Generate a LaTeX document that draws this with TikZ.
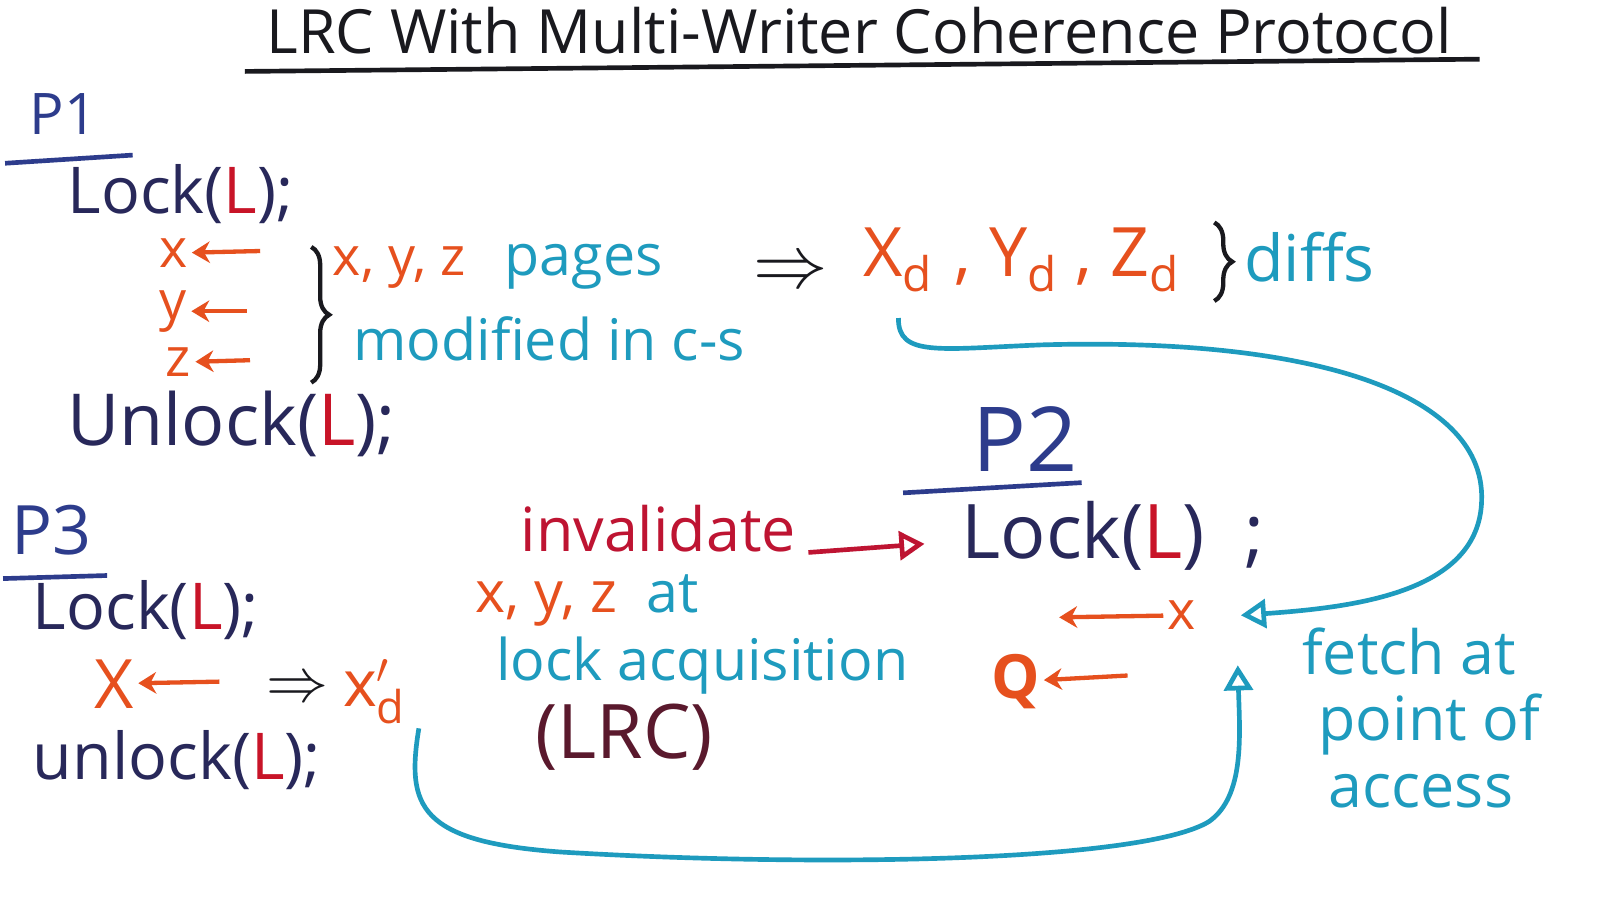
\documentclass[tikz,border=0pt]{standalone}
\usepackage{fontspec}
\setmainfont{Open Sans}
\usepackage{tikz}
\usetikzlibrary{arrows.meta}
\usetikzlibrary{decorations.pathreplacing}
\usetikzlibrary{positioning}
\definecolor{inkblack}{RGB}{25,25,30}
\definecolor{navy}{RGB}{40,40,90}
\definecolor{procblue}{RGB}{45,60,140}
\definecolor{lockred}{RGB}{200,20,40}
\definecolor{varorange}{RGB}{230,80,30}
\definecolor{noteteal}{RGB}{30,155,190}
\definecolor{invred}{RGB}{190,20,50}
\definecolor{lrcmaroon}{RGB}{90,25,45}
\newcommand{\lk}{\textcolor{lockred}{L}}
\newcommand{\fs}[1]{\fontsize{#1}{#1}\selectfont}
\tikzset{
    codetext/.style={navy, inner sep=1pt, font=\fs{18}},
    proctext/.style={procblue, inner sep=1pt, font=\fs{18}},
    vartext/.style={varorange, inner sep=1pt, font=\fs{15}},
    notetext/.style={noteteal, inner sep=1pt, font=\fs{16}},
    % short orange assignment arrows
    assignarrow/.style={
        line width=1.2pt,
        varorange,
        -{Stealth[length=5pt, width=6pt]}
    },
    % long teal arrows
    tealarrow/.style={
        line width=1.3pt,
        noteteal,
        -{Triangle[open, length=7pt, width=8pt]}
    },
    procline/.style={line width=1.3pt, procblue},
    bracedeco/.style={line width=1.2pt, inkblack, decorate, decoration={brace, amplitude=5pt}}
}

\begin{document}
\begin{tikzpicture}
	\fill[white] (0,0) rectangle (15.68,8.80);
	\useasboundingbox (0,0) rectangle (15.68,8.80);
	
	% title
	\node[inkblack, font=\fs{17}] (title) at (8.42,8.50) {LRC With Multi-Writer Coherence Protocol};
	\draw[line width=1.3pt, inkblack] (2.40,8.10) -- (14.50,8.22);
	
	% ===================== P1 =====================
	\node[proctext, font=\fs{16}] (p1) at (0.62,7.68) {P1};
	\draw[procline] (0.05,7.20) -- (1.30,7.28);
	\node[codetext, anchor=west] (lock1) at (0.62,6.90) {Lock(\lk);};
	
	\node[vartext] (x1) at (1.70,6.32) {x};
	\node[vartext] (y1) at (1.70,5.75) {y};
	\node[vartext] (z1) at (1.75,5.25) {z};
	\path
	(2.55,6.34) coordinate (x1r)
	(2.42,5.75) coordinate (y1r)
	(2.45,5.27) coordinate (z1r);
	\draw[assignarrow] (x1r) -- (x1);
	\draw[assignarrow] (y1r) -- (y1);
	\draw[assignarrow] (z1r) -- (z1);
	
	\draw[bracedeco] (3.05,6.38) -- (3.05,5.05);
	\node[vartext, anchor=west] (xyz1) at (3.22,6.18) {x, y, z};
	\node[notetext, base right=0.3cm of xyz1] (pages) {pages};
	\node[notetext, anchor=west] (mod) at (3.42,5.48) {modified in c-s};
	
	\node[inkblack, font=\fs{20}] (imp1) at (7.75,6.12) {$\Rightarrow$};
	\node[vartext, font=\fs{19}, anchor=west] (xd) at (8.42,6.25) {X\textsubscript{d}};
	\node[vartext, font=\fs{19}, base right=0.12cm of xd] (yzd) {,\ Y\textsubscript{d}\ ,\ Z\textsubscript{d}};
	\draw[bracedeco] (11.90,6.62) -- (11.90,5.85);
	\node[notetext, font=\fs{18}, anchor=west] (diffs) at (12.15,6.28) {diffs};
	
	\node[codetext, font=\fs{20}, anchor=west] (unlock1) at (0.62,4.65) {Unlock(\lk);};
	
	% ===================== P2 =====================
	\node[proctext, font=\fs{25}] (p2) at (10.05,4.50) {P2};
	\draw[procline] (8.85,3.97) -- (10.60,4.07);
	\node[codetext, font=\fs{21}, anchor=west] (lock2) at (9.38,3.55) {Lock(\lk)\ \ ;};
	
	\node[vartext] (x2) at (11.58,2.77) {x};
	\node[vartext, font=\bfseries\fs{17}] (q) at (9.95,2.12) {Q};
	\path
	(10.38,2.75) coordinate (x2l)
	(11.05,2.18) coordinate (qr)
	(12.13,2.28) coordinate (acc);
	\draw[assignarrow] (x2) -- (x2l);
	\draw[assignarrow] (qr) -- (q);
	
	% invalidate
	\node[invred, font=\fs{17}] (inval) at (6.45,3.62) {invalidate};
	\draw[line width=1.3pt, invred, -{Triangle[open, length=7pt, width=8pt]}]
	([yshift=0.12cm]inval.south east) -- ([xshift=-0.32cm,yshift=-0.08cm]lock2.west);
	
	\node[vartext, font=\fs{16}, anchor=west] (xyz2) at (4.62,2.88) {x, y, z};
	\node[notetext, font=\fs{16}, base right=0.2cm of xyz2] (at2) {at};
	\node[notetext, font=\fs{16}, anchor=west] (acq) at (4.82,2.28) {lock acquisition};
	\node[lrcmaroon, font=\fs{21}, anchor=west] (lrc) at (5.12,1.58) {(LRC)};
	
	% ===================== P3 =====================
	\node[proctext, font=\fs{19}] (p3) at (0.50,3.60) {P3};
	\draw[procline] (0.03,3.13) -- (1.05,3.16);
	\node[codetext, anchor=west] (lock3) at (0.28,2.82) {Lock(\lk);};
	\node[vartext, font=\fs{19}] (x3) at (1.12,2.10) {X};
	\coordinate (x3r) at (2.15,2.12);
	\draw[assignarrow] (x3r) -- (x3);
	\node[inkblack, font=\fs{18}] (imp2) at (2.92,2.04) {$\Rightarrow$};
	\node[vartext, font=\fs{18}, anchor=west] (xd3) at (3.32,2.02) {$\mathrm{x}'_{\mathrm{d}}$};
	\node[codetext, anchor=west] (unlock3) at (0.28,1.35) {unlock(\lk);};
	
	% fetch at point of access
	\node[notetext, font=\fs{17}, anchor=west] (fetch) at (12.72,2.42) {fetch at};
	\node[notetext, font=\fs{17}, anchor=west] (point) at (12.88,1.70) {point of};
	\node[notetext, font=\fs{17}, anchor=west] (access) at (12.98,1.05) {access};
	
	% teal curves
	\draw[tealarrow, shorten <=6pt] (xd.south) .. controls (8.8,5.3) and (9.2,5.38) .. (10.2,5.42)
	.. controls (13.0,5.5) and (14.55,4.9) .. (14.52,3.9)
	.. controls (14.5,3.0) and (13.3,2.85) .. ([xshift=0.4cm]x2.east);
	\draw[tealarrow] ([xshift=0.08cm]xd3.south east) .. controls (3.98,0.9) and (4.1,0.55) .. (5.5,0.45)
	.. controls (8,0.3) and (11.2,0.35) .. (11.85,0.75)
	.. controls (12.2,1.0) and (12.15,1.6) .. (acc);
\end{tikzpicture}
\end{document}
